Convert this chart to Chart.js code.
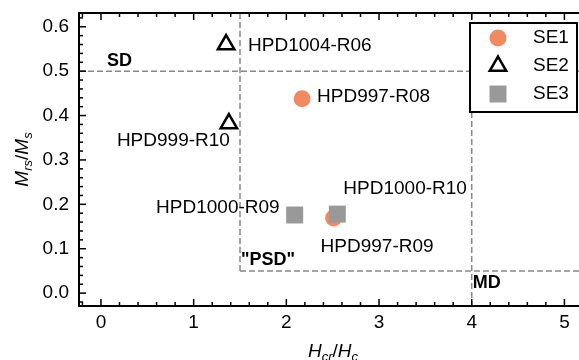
<!DOCTYPE html>
<html>
<head>
<meta charset="utf-8">
<script src="https://cdn.jsdelivr.net/npm/chart.js@4.4.0/dist/chart.umd.min.js"></script>
<style>
html, body { margin: 0; padding: 0; background: #fff; overflow: hidden; }
#wrap { width: 579px; height: 360px; overflow: hidden; }
</style>
</head>
<body>
<div id="wrap"><canvas id="dayPlot" width="610" height="360"></canvas></div>
<script>
// Day plot: Hcr/Hc (x) against Mrs/Ms (y)
const se1Names = ['HPD997-R08', 'HPD997-R09'];
const se1X = [2.17, 2.51];
const se1Y = [0.438, 0.169];

const se2Names = ['HPD1004-R06', 'HPD999-R10'];
const se2X = [1.35, 1.38];
const se2Y = [0.56, 0.382];

const se3Names = ['HPD1000-R09', 'HPD1000-R10'];
const se3X = [2.09, 2.55];
const se3Y = [0.176, 0.178];

const xTicks = [0, 1, 2, 3, 4, 5];
const yTicks = [0.0, 0.1, 0.2, 0.3, 0.4, 0.5, 0.6];

// domain boundaries
const hcrHcBounds = [1.5, 4];
const mrsMsBounds = [0.05, 0.5];
const domainNames = ['SD', '"PSD"', 'MD'];

const FONT = '"Liberation Sans", Arial, Helvetica, sans-serif';

// label offsets (px) from each point: [dx, dy, align]
const labelPlacement = [
    [[15, -2, 'left'], [-13, 29, 'left']],
    [[22, 1, 'left'], [1, 17, 'right']],
    [[-15, -7, 'right'], [6, -25, 'left']]
];

function toPoints(xs, ys) {
    return xs.map((v, i) => ({ x: v, y: ys[i] }));
}

function drawMarker(ctx, ds, cx, cy) {
    ctx.save();
    const r = ds.pointRadius;
    ctx.beginPath();
    if (ds.pointStyle === 'circle') {
        ctx.arc(cx, cy, r, 0, Math.PI * 2);
        ctx.fillStyle = ds.backgroundColor;
        ctx.fill();
    } else if (ds.pointStyle === 'triangle') {
        for (let k = 0; k < 3; k++) {
            const a = k * 2 * Math.PI / 3;
            const px = cx + Math.sin(a) * r, py = cy - Math.cos(a) * r;
            if (k === 0) ctx.moveTo(px, py); else ctx.lineTo(px, py);
        }
        ctx.closePath();
        ctx.lineWidth = ds.borderWidth;
        ctx.strokeStyle = ds.borderColor;
        ctx.lineJoin = 'miter';
        ctx.stroke();
    } else {
        const s = Math.SQRT1_2 * r;
        ctx.fillStyle = ds.backgroundColor;
        ctx.fillRect(cx - s, cy - s, 2 * s, 2 * s);
    }
    ctx.restore();
}

// draws text pieces with italic subscripts, e.g. M_rs / M_s
function mathPieces(ctx, pieces, x, y, align) {
    const big = 'italic 19px ' + FONT, small = 'italic 13px ' + FONT;
    let total = 0;
    pieces.forEach(p => {
        ctx.font = p.sub ? small : (p.upright ? '19px ' + FONT : big);
        total += ctx.measureText(p.t).width;
    });
    let cx = align === 'center' ? x - total / 2 : x;
    pieces.forEach(p => {
        ctx.font = p.sub ? small : (p.upright ? '19px ' + FONT : big);
        ctx.fillText(p.t, cx, y + (p.sub ? 4 : 0));
        cx += ctx.measureText(p.t).width;
    });
}

const dayPlotDecor = {
    id: 'dayPlotDecor',
    beforeDatasetsDraw(chart) {
        const { ctx, chartArea: a, scales: { x, y } } = chart;
        const x1 = x.getPixelForValue(hcrHcBounds[0]);
        const x2 = x.getPixelForValue(hcrHcBounds[1]);
        const yPSD = y.getPixelForValue(mrsMsBounds[0]);
        const ySD = y.getPixelForValue(mrsMsBounds[1]);
        ctx.save();
        ctx.beginPath();
        ctx.rect(a.left, a.top, a.right - a.left, a.bottom - a.top);
        ctx.clip();
        ctx.strokeStyle = '#888888';
        ctx.lineWidth = 1.5;
        ctx.setLineDash([6, 3]);
        const seg = (ax, ay, bx, by) => {
            ctx.beginPath(); ctx.moveTo(ax, ay); ctx.lineTo(bx, by); ctx.stroke();
        };
        seg(a.left, ySD, a.right, ySD);
        seg(x1, a.top, x1, yPSD);
        seg(x1, yPSD, a.right, yPSD);
        seg(x2, a.top, x2, a.bottom);
        ctx.restore();
    },
    afterDraw(chart) {
        const { ctx, chartArea: a, scales: { x, y } } = chart;
        ctx.save();

        // frame
        ctx.strokeStyle = '#000';
        ctx.lineWidth = 2;
        ctx.strokeRect(a.left, a.top, a.right - a.left, a.bottom - a.top);

        // inward ticks on all four sides
        ctx.lineWidth = 1.5;
        const tick = (px, py, dx, dy) => {
            ctx.beginPath(); ctx.moveTo(px, py); ctx.lineTo(px + dx, py + dy); ctx.stroke();
        };
        for (let i = -1; i <= 27; i++) {
            const v = i * 0.2;
            if (v < x.min || v > x.max) continue;
            const px = x.getPixelForValue(v);
            const len = i % 5 === 0 ? 7 : 4;
            tick(px, a.bottom, 0, -len);
            tick(px, a.top, 0, len);
        }
        for (let i = -1; i <= 31; i++) {
            const v = i * 0.02;
            if (v < y.min || v > y.max) continue;
            const py = y.getPixelForValue(v);
            const len = i % 5 === 0 ? 7 : 4;
            tick(a.left, py, len, 0);
            tick(a.right, py, -len, 0);
        }

        // tick labels
        ctx.fillStyle = '#000';
        ctx.font = '19px ' + FONT;
        ctx.textBaseline = 'middle';
        ctx.textAlign = 'right';
        yTicks.forEach(v => ctx.fillText(v.toFixed(1), a.left - 10, y.getPixelForValue(v)));
        ctx.textAlign = 'center';
        xTicks.forEach(v => ctx.fillText(String(v), x.getPixelForValue(v), a.bottom + 17));

        // axis titles
        ctx.textBaseline = 'alphabetic';
        ctx.textAlign = 'left';
        mathPieces(ctx, [{ t: 'H' }, { t: 'cr', sub: true }, { t: '/', upright: true }, { t: 'H' }, { t: 'c', sub: true }],
            333, 357, 'center');
        ctx.save();
        ctx.translate(28, (a.top + a.bottom) / 2);
        ctx.rotate(-Math.PI / 2);
        mathPieces(ctx, [{ t: 'M' }, { t: 'rs', sub: true }, { t: '/', upright: true }, { t: 'M' }, { t: 's', sub: true }],
            0, 0, 'center');
        ctx.restore();

        // point labels
        ctx.font = '19px ' + FONT;
        ctx.textBaseline = 'middle';
        const names = [se1Names, se2Names, se3Names];
        chart.data.datasets.forEach((ds, di) => {
            ds.data.forEach((p, pi) => {
                const [dx, dy, align] = labelPlacement[di][pi];
                ctx.textAlign = align;
                ctx.fillText(names[di][pi], x.getPixelForValue(p.x) + dx, y.getPixelForValue(p.y) + dy);
            });
        });

        // domain names
        ctx.font = 'bold 18px ' + FONT;
        ctx.textAlign = 'left';
        ctx.fillText(domainNames[0], x.getPixelForValue(0) + 6, y.getPixelForValue(mrsMsBounds[1]) - 10);
        ctx.fillText(domainNames[1], x.getPixelForValue(hcrHcBounds[0]) + 1, y.getPixelForValue(mrsMsBounds[0]) - 11);
        ctx.fillText(domainNames[2], x.getPixelForValue(hcrHcBounds[1]) + 1, y.getPixelForValue(mrsMsBounds[0]) + 12);

        // legend box
        const lx = 470, ly = 23, lw = 107, lh = 89;
        ctx.fillStyle = '#fff';
        ctx.fillRect(lx, ly, lw, lh);
        ctx.strokeStyle = '#000';
        ctx.lineWidth = 2;
        ctx.strokeRect(lx, ly, lw, lh);
        ctx.font = '19px ' + FONT;
        ctx.fillStyle = '#000';
        ctx.textAlign = 'left';
        chart.data.datasets.forEach((ds, i) => {
            const ry = ly + 15 + i * 28;
            drawMarker(ctx, ds, lx + 28, ry);
            ctx.fillStyle = '#000';
            ctx.fillText(ds.label, lx + 63, ry);
        });

        ctx.restore();
    }
};

new Chart(document.getElementById('dayPlot'), {
    type: 'scatter',
    data: {
        datasets: [{
            label: 'SE1',
            data: toPoints(se1X, se1Y),
            pointStyle: 'circle',
            pointRadius: 8.5,
            backgroundColor: '#ef8a62',
            borderWidth: 0,
            order: 2
        }, {
            label: 'SE2',
            data: toPoints(se2X, se2Y),
            pointStyle: 'triangle',
            pointRadius: 9.5,
            backgroundColor: 'rgba(0,0,0,0)',
            borderColor: '#000',
            borderWidth: 2.5,
            order: 1
        }, {
            label: 'SE3',
            data: toPoints(se3X, se3Y),
            pointStyle: 'rect',
            pointRadius: 12,
            backgroundColor: '#999999',
            borderWidth: 0,
            order: 0
        }]
    },
    options: {
        responsive: false,
        animation: false,
        events: [],
        layout: { padding: { left: 79, top: 13, right: 15, bottom: 54 } },
        plugins: { legend: { display: false }, tooltip: { enabled: false } },
        scales: {
            x: { type: 'linear', min: -0.237, max: 5.33, display: false },
            y: { type: 'linear', min: -0.029, max: 0.631, display: false }
        }
    },
    plugins: [dayPlotDecor]
});
</script>
</body>
</html>
